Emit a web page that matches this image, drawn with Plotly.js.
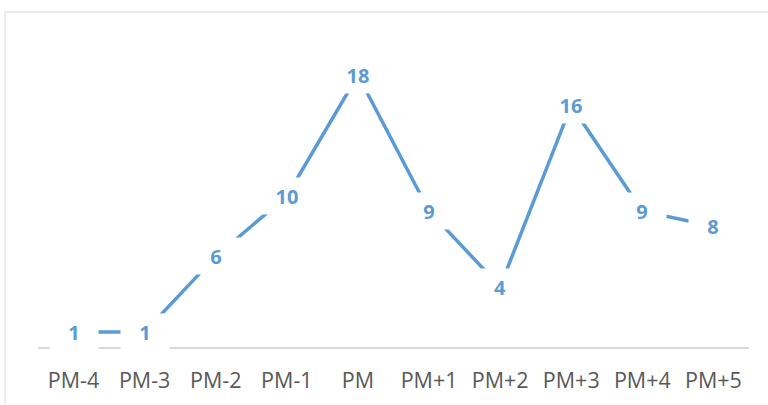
<!DOCTYPE html>
<html>
<head>
<meta charset="utf-8">
<script src="https://cdn.plot.ly/plotly-3.0.1.min.js"></script>
<style>
html,body{margin:0;padding:0;background:#fff;}
#chart{width:768px;height:405px;}
</style>
</head>
<body>
<div id="chart"></div>
<script>
const categories = ["PM-4","PM-3","PM-2","PM-1","PM","PM+1","PM+2","PM+3","PM+4","PM+5"];
const values = [1, 1, 6, 10, 18, 9, 4, 16, 9, 8];

const lineColor = "#5B9BD5";

const trace = {
  x: categories,
  y: values,
  type: "scatter",
  mode: "lines",
  line: {color: lineColor, width: 3.5},
  hoverinfo: "skip",
  cliponaxis: false
};

const annotations = categories.map((c, i) => ({
  x: c,
  y: values[i],
  xref: "x",
  yref: "y",
  text: String(values[i]),
  showarrow: false,
  xanchor: "center",
  yanchor: "middle",
  bgcolor: "#ffffff",
  width: 46,
  height: 34,
  font: {family: "Open Sans, sans-serif", size: 20, color: lineColor, weight: "bold"}
}));

const layout = {
  width: 768,
  height: 405,
  margin: {l: 38, r: 19, t: 45, b: 58},
  paper_bgcolor: "#ffffff",
  plot_bgcolor: "#ffffff",
  showlegend: false,
  xaxis: {
    type: "category",
    showgrid: false,
    zeroline: false,
    showline: true,
    linecolor: "#d9d9d9",
    linewidth: 1.5,
    ticks: "",
    ticklabelstandoff: 14,
    tickfont: {family: "Open Sans, sans-serif", size: 21.5, color: "#595959"},
    range: [-0.5, 9.5],
    fixedrange: true
  },
  yaxis: {
    range: [0, 20],
    visible: false,
    showgrid: false,
    zeroline: false,
    fixedrange: true
  },
  annotations: annotations,
  shapes: [{
    type: "rect",
    xref: "paper",
    yref: "paper",
    x0: -0.0464,
    x1: 1.2,
    y0: -0.4,
    y1: 1.109,
    line: {color: "#d9d9d9", width: 1},
    fillcolor: "rgba(0,0,0,0)",
    layer: "below"
  }]
};

Plotly.newPlot("chart", [trace], layout, {displayModeBar: false, staticPlot: true});
</script>
</body>
</html>
